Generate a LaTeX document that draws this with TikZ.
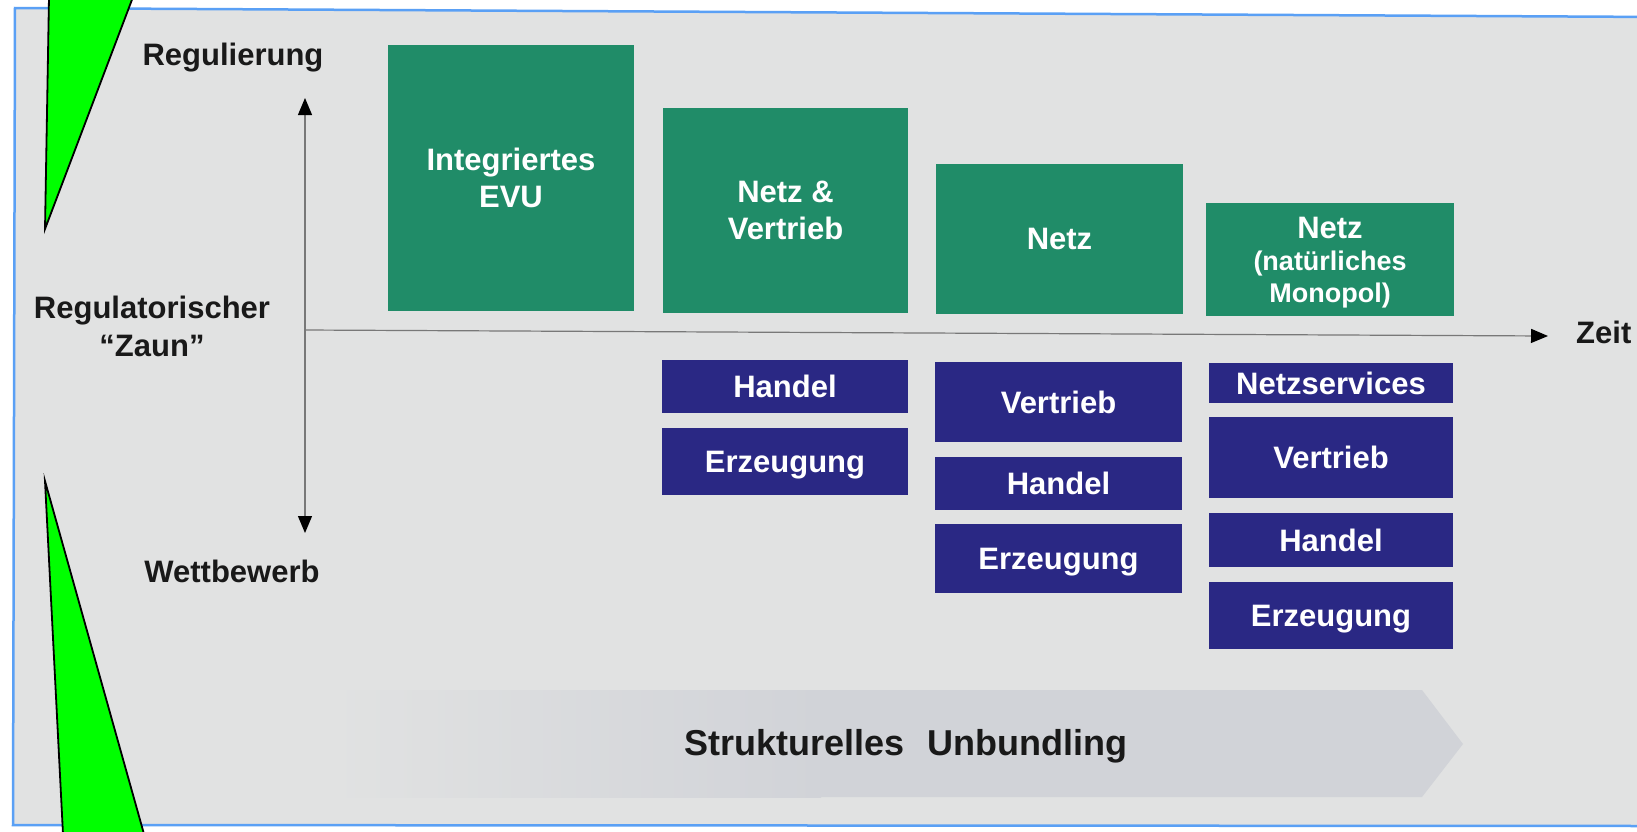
\documentclass[tikz,border=0pt]{standalone}
\usepackage{fontspec}
\setmainfont{Liberation Sans}
\usetikzlibrary{arrows.meta}
\definecolor{bgray}{RGB}{225,226,226}
\definecolor{bandgray}{RGB}{209,211,216}
\definecolor{framebl}{RGB}{90,160,245}
\definecolor{boxgreen}{RGB}{32,140,104}
\definecolor{boxblue}{RGB}{42,40,132}
\definecolor{txtblack}{RGB}{25,25,25}
\definecolor{axisgray}{RGB}{120,120,120}
\definecolor{limegreen}{RGB}{0,255,0}
\begin{document}
\begin{tikzpicture}[x=1pt,y=-1pt,
  greenbox/.style={fill=boxgreen, text=white, inner sep=0pt, align=center,
    font=\bfseries\fontsize{31}{37}\selectfont, text depth=0pt},
  bluebox/.style={fill=boxblue, text=white, inner sep=0pt, align=center,
    font=\bfseries\fontsize{31}{37}\selectfont, text depth=0pt},
  lbl/.style={text=txtblack, inner sep=0pt, font=\bfseries\fontsize{31}{38}\selectfont},
  axisline/.style={draw=axisgray, line width=1.2pt},
  axtip/.tip={Triangle[length=17pt,width=14pt,fill=black,color=black]},
  wedge/.style={fill=limegreen, draw=black, line width=1.8pt, line join=miter}
]
\clip (0,0) rectangle (1637,831);
\fill[white] (0,0) rectangle (1637,831);
% frame
\filldraw[fill=bgray, draw=framebl, line width=2.5pt]
  (15,8) -- (1660,17) -- (1660,826) -- (13,825) -- cycle;
% unbundling band
\shade[left color=bgray, right color=bandgray] (330,690) rectangle (821,797);
\fill[bandgray] (820,690) -- (1422,690) -- (1463,744) -- (1422,797) -- (820,797) -- cycle;
\node[lbl, anchor=base, font=\bfseries\fontsize{36}{40}\selectfont] (unb) at (906,755)
  {Strukturelles\hspace{0.35em} Unbundling};

% axes
\coordinate (vtop) at (305,98);
\coordinate (vbot) at (305,533);
\coordinate (orig) at (305,330);
\coordinate (htip) at (1548,336);
\draw[axisline, {axtip}-{axtip}] (vtop) -- (vbot);
\draw[axisline, -{axtip}] (orig) -- (htip);

% axis labels
\node[lbl, anchor=base] (reg) at (233,65) {Regulierung};
\node[lbl, anchor=base] (wett) at (232,582) {Wettbewerb};
\node[lbl, align=center, text depth=0pt] (zaun) at (152,326) {Regulatorischer\\“Zaun”};
\node[lbl, anchor=base west] (zeit) at (1576,343) {Zeit};

% green boxes
\node[greenbox, minimum width=246pt, minimum height=266pt] (g1) at (511,178) {Integriertes\\EVU};
\node[greenbox, minimum width=245pt, minimum height=205pt] (g2) at (785.5,210.5) {Netz \&\\Vertrieb};
\node[greenbox, minimum width=247pt, minimum height=150pt] (g3) at (1059.5,239) {Netz};
\node[greenbox, minimum width=248pt, minimum height=113pt,
  font=\bfseries\fontsize{27}{32}\selectfont] (g4) at (1330,259.5)
  {{\fontsize{31}{32}\selectfont Netz}\\(natürliches\\Monopol)};

% blue boxes
\node[bluebox, minimum width=246pt, minimum height=53pt] (b21) at (785,386.5) {Handel};
\node[bluebox, minimum width=246pt, minimum height=67pt] (b22) at (785,461.5) {Erzeugung};
\node[bluebox, minimum width=247pt, minimum height=80pt] (b31) at (1058.5,402) {Vertrieb};
\node[bluebox, minimum width=247pt, minimum height=53pt] (b32) at (1058.5,483.5) {Handel};
\node[bluebox, minimum width=247pt, minimum height=69pt] (b33) at (1058.5,558.5) {Erzeugung};
\node[bluebox, minimum width=244pt, minimum height=40pt] (b41) at (1331,383) {Netzservices};
\node[bluebox, minimum width=244pt, minimum height=81pt] (b42) at (1331,457.5) {Vertrieb};
\node[bluebox, minimum width=244pt, minimum height=54pt] (b43) at (1331,540) {Handel};
\node[bluebox, minimum width=244pt, minimum height=67pt] (b44) at (1331,615.5) {Erzeugung};

% green wedges
\filldraw[wedge] (49,-3) -- (133,-3) -- (45,229) -- cycle;
\filldraw[wedge] (45,481) -- (144,834) -- (63,834) -- cycle;
\end{tikzpicture}
\end{document}
